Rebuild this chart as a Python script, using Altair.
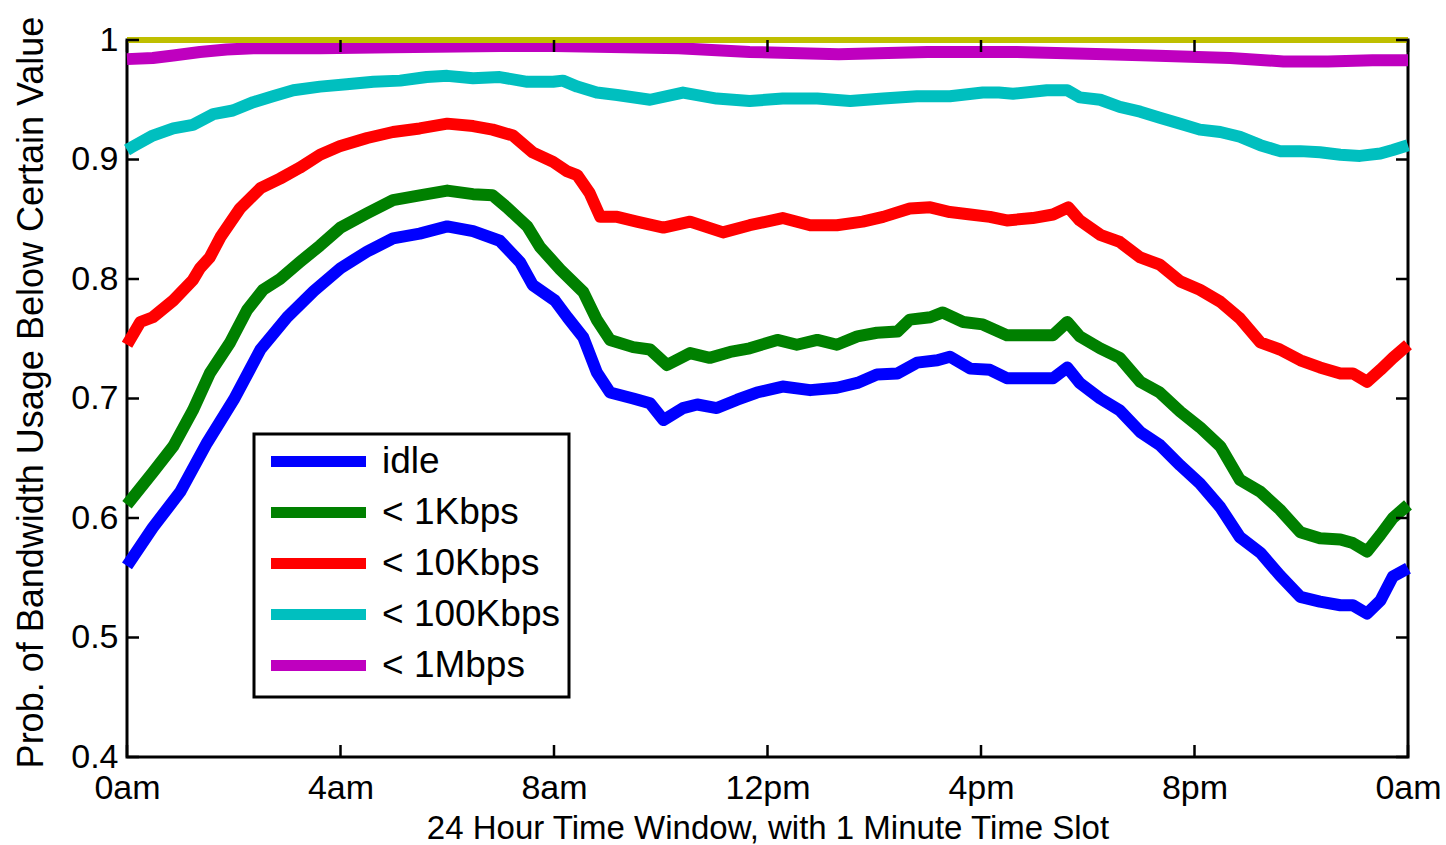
import json
import altair as alt
import pandas as pd

# ---------------- data ----------------
SERIES = ["idle", "< 1Kbps", "< 10Kbps", "< 100Kbps", "< 1Mbps"]
COLORS = ["#0000FF", "#008000", "#FF0000", "#00BFBF", "#BF00BF"]

idle_min = [0, 29, 60, 90, 120, 150, 180, 210, 240, 270, 299, 329, 360, 389, 419, 442,
            456, 481, 495, 513, 528, 543, 569, 588, 603, 625, 641, 663, 686, 708, 737,
            768, 798, 821, 843, 866, 888, 911, 925, 948, 970, 989, 1018, 1041, 1057,
            1071, 1094, 1116, 1139, 1161, 1184, 1206, 1229, 1251, 1274, 1296, 1319,
            1341, 1364, 1378, 1394, 1409, 1423, 1440]
idle_val = [0.560, 0.592, 0.622, 0.663, 0.699, 0.741, 0.768, 0.790, 0.809, 0.823, 0.834,
            0.838, 0.844, 0.840, 0.832, 0.814, 0.795, 0.782, 0.768, 0.751, 0.722, 0.705,
            0.700, 0.696, 0.682, 0.692, 0.695, 0.692, 0.699, 0.705, 0.710, 0.707, 0.709,
            0.713, 0.720, 0.721, 0.730, 0.732, 0.735, 0.725, 0.724, 0.717, 0.717, 0.717,
            0.726, 0.713, 0.700, 0.690, 0.672, 0.661, 0.644, 0.629, 0.609, 0.584, 0.571,
            0.552, 0.534, 0.530, 0.527, 0.527, 0.520, 0.531, 0.551, 0.558]

k1_min = [0, 29, 52, 74, 93, 116, 135, 153, 172, 194, 217, 240, 270, 299, 329, 360, 389,
          411, 427, 450, 464, 487, 513, 528, 543, 569, 588, 607, 633, 655, 678, 700, 731,
          753, 776, 798, 821, 843, 866, 880, 903, 917, 940, 962, 989, 1018, 1041, 1057,
          1071, 1094, 1116, 1139, 1161, 1184, 1206, 1229, 1251, 1274, 1296, 1319, 1341,
          1364, 1378, 1394, 1409, 1423, 1440]
k1_val = [0.611, 0.638, 0.660, 0.690, 0.721, 0.747, 0.774, 0.791, 0.800, 0.814, 0.828,
          0.843, 0.855, 0.866, 0.870, 0.874, 0.871, 0.870, 0.860, 0.844, 0.827, 0.808,
          0.789, 0.766, 0.749, 0.743, 0.741, 0.728, 0.738, 0.734, 0.739, 0.742, 0.749,
          0.745, 0.749, 0.745, 0.752, 0.755, 0.756, 0.766, 0.768, 0.772, 0.764, 0.762,
          0.753, 0.753, 0.753, 0.764, 0.752, 0.742, 0.734, 0.714, 0.705, 0.689, 0.676,
          0.660, 0.632, 0.622, 0.607, 0.588, 0.583, 0.582, 0.579, 0.572, 0.586, 0.600,
          0.611]

k10_min = [0, 15, 29, 52, 74, 82, 93, 105, 127, 150, 172, 194, 217, 239, 270, 299, 329,
           360, 389, 411, 434, 456, 479, 495, 506, 520, 532, 551, 573, 603, 633, 670, 700,
           737, 768, 798, 827, 850, 880, 903, 925, 948, 970, 989, 1018, 1041, 1058, 1071,
           1094, 1116, 1139, 1161, 1184, 1206, 1229, 1251, 1274, 1296, 1319, 1341, 1364,
           1378, 1394, 1409, 1423, 1440]
k10_val = [0.745, 0.764, 0.768, 0.782, 0.799, 0.809, 0.818, 0.835, 0.859, 0.876, 0.884,
           0.893, 0.904, 0.911, 0.918, 0.923, 0.926, 0.930, 0.928, 0.925, 0.920, 0.906,
           0.898, 0.890, 0.887, 0.872, 0.852, 0.852, 0.848, 0.843, 0.848, 0.839, 0.845,
           0.851, 0.845, 0.845, 0.848, 0.852, 0.859, 0.860, 0.856, 0.854, 0.852, 0.849,
           0.851, 0.854, 0.860, 0.849, 0.837, 0.831, 0.818, 0.812, 0.798, 0.791, 0.781,
           0.767, 0.747, 0.741, 0.732, 0.726, 0.721, 0.721, 0.714, 0.724, 0.734, 0.745]

k100_min = [0, 7, 29, 52, 74, 97, 119, 142, 164, 187, 217, 247, 277, 307, 337, 360, 389,
            419, 450, 479, 490, 506, 528, 551, 588, 625, 663, 700, 737, 776, 813, 850, 888,
            925, 962, 980, 996, 1034, 1057, 1071, 1094, 1116, 1139, 1161, 1184, 1206, 1229,
            1251, 1274, 1296, 1319, 1341, 1364, 1386, 1409, 1423, 1440]
k100_val = [0.908, 0.911, 0.920, 0.926, 0.929, 0.938, 0.941, 0.948, 0.953, 0.958, 0.961,
            0.963, 0.965, 0.966, 0.969, 0.970, 0.968, 0.969, 0.965, 0.965, 0.966, 0.961,
            0.956, 0.954, 0.950, 0.956, 0.951, 0.949, 0.951, 0.951, 0.949, 0.951, 0.953,
            0.953, 0.956, 0.956, 0.955, 0.958, 0.958, 0.952, 0.950, 0.944, 0.940, 0.935,
            0.930, 0.925, 0.923, 0.919, 0.912, 0.907, 0.907, 0.906, 0.904, 0.903, 0.905,
            0.908, 0.912]

m1_min = [0, 29, 52, 82, 112, 142, 217, 299, 420, 480, 560, 620, 700, 800, 900, 1000,
          1100, 1150, 1240, 1300, 1350, 1400, 1440]
m1_val = [0.984, 0.985, 0.987, 0.990, 0.992, 0.993, 0.993, 0.994, 0.995, 0.995, 0.994,
          0.993, 0.990, 0.988, 0.990, 0.990, 0.988, 0.987, 0.985, 0.982, 0.982, 0.983,
          0.983]

top_min = [0, 1440]
top_val = [1.0, 1.0]

x_ticks = [0, 240, 480, 720, 960, 1200, 1440]
x_labels = ["0am", "4am", "8am", "12pm", "4pm", "8pm", "0am"]
y_ticks = [0.4, 0.5, 0.6, 0.7, 0.8, 0.9, 1.0]

# ---------------- tables ----------------
rows = []
for name, mins, vals in zip(SERIES, [idle_min, k1_min, k10_min, k100_min, m1_min],
                            [idle_val, k1_val, k10_val, k100_val, m1_val]):
    for m, v in zip(mins, vals):
        rows.append({"series": name, "minute": m, "value": v})
df = pd.DataFrame(rows)
df_top = pd.DataFrame({"minute": top_min, "value": top_val})

ytick_left = pd.DataFrame({"minute": [0] * len(y_ticks), "value": y_ticks})
ytick_right = pd.DataFrame({"minute": [1440] * len(y_ticks), "value": y_ticks})
xtick_bottom = pd.DataFrame({"minute": x_ticks, "value": [0.4] * len(x_ticks)})
xtick_top = pd.DataFrame({"minute": x_ticks, "value": [1.0] * len(x_ticks)})

FONT = "Liberation Sans"

x_axis = alt.Axis(
    values=x_ticks,
    labelExpr=json.dumps(x_labels) + "[round(datum.value / 240)]",
    title="24 Hour Time Window, with 1 Minute Time Slot",
    titleFont=FONT, titleFontSize=33, titleFontWeight="normal", titleColor="black",
    titleBaseline="alphabetic", titleY=81,
    labelFont=FONT, labelFontSize=34, labelColor="black", labelPadding=14,
    labelOverlap=False, labelFlush=False,
    ticks=False, tickSize=0, domain=False, grid=False,
)
y_axis = alt.Axis(
    values=y_ticks,
    format=".1~f",
    title="Prob. of Bandwidth Usage Below Certain Value",
    titleFont=FONT, titleFontSize=36, titleFontWeight="normal", titleColor="black",
    titleBaseline="alphabetic", titleX=-85, titleY=352,
    labelFont=FONT, labelFontSize=34, labelColor="black", labelPadding=9,
    labelOverlap=False, labelFlush=False,
    ticks=False, tickSize=0, domain=False, grid=False,
)
x_scale = alt.Scale(domain=[0, 1440], nice=False, zero=False)
y_scale = alt.Scale(domain=[0.4, 1.0], nice=False, zero=False)

X = alt.X("minute:Q", scale=x_scale, axis=x_axis)
Y = alt.Y("value:Q", scale=y_scale, axis=y_axis)

lines = alt.Chart(df).mark_line(strokeWidth=12, strokeJoin="round").encode(
    x=X,
    y=Y,
    color=alt.Color(
        "series:N",
        scale=alt.Scale(domain=SERIES, range=COLORS),
        sort=SERIES,
        legend=alt.Legend(
            title=None,
            orient="none",
            legendX=127,
            legendY=394,
            symbolType="M-5,0H5",
            symbolSize=361,
            symbolStrokeWidth=11,
            symbolOffset=37,
            labelOffset=45,
            labelFont=FONT,
            labelFontSize=37,
            labelColor="black",
            labelLimit=400,
            rowPadding=6,
            padding=9,
            strokeColor="black",
            fillColor="white",
        ),
    ),
)

top_line = alt.Chart(df_top).mark_line(strokeWidth=6, color="#BFBF00").encode(x=X, y=Y)

tick_style = dict(color="black", strokeWidth=2.5)
left_ticks = alt.Chart(ytick_left).mark_rule(x2Offset=12, **tick_style).encode(
    x=X, x2=alt.X2("minute:Q"), y=Y)
right_ticks = alt.Chart(ytick_right).mark_rule(x2Offset=-12, **tick_style).encode(
    x=X, x2=alt.X2("minute:Q"), y=Y)
bottom_ticks = alt.Chart(xtick_bottom).mark_rule(y2Offset=-12, **tick_style).encode(
    x=X, y=Y, y2=alt.Y2("value:Q"))
top_ticks = alt.Chart(xtick_top).mark_rule(y2Offset=12, **tick_style).encode(
    x=X, y=Y, y2=alt.Y2("value:Q"))

chart = alt.layer(
    lines, top_line, left_ticks, right_ticks, bottom_ticks, top_ticks
).properties(
    width=1281,
    height=717,
    autosize=alt.AutoSizeParams(type="none"),
    padding={"left": 127, "top": 40, "right": 38, "bottom": 88},
    background="white",
).configure_view(
    stroke="black", strokeWidth=3
).configure_legend(
    strokeWidth=3
)

chart.save("out.html", embed_options={"renderer": "svg", "actions": False})
